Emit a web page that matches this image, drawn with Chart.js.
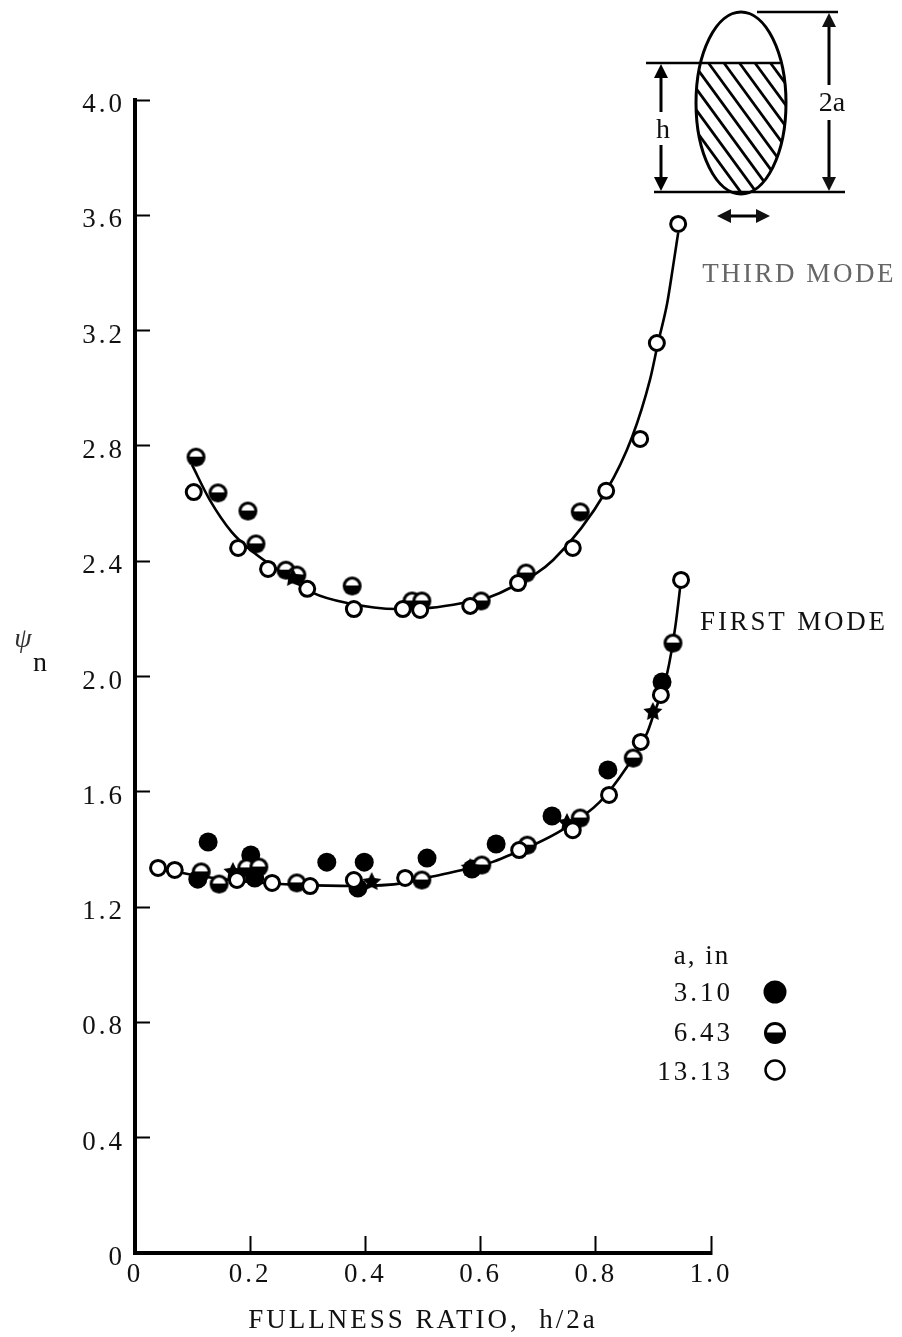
<!DOCTYPE html>
<html>
<head>
<meta charset="utf-8">
<title>Fullness ratio</title>
<script src="https://cdn.jsdelivr.net/npm/chart.js@4"></script>
<style>
  html, body { margin: 0; background: #fff; }
  canvas { display: block; }
</style>
</head>
<body>
<canvas id="chart" width="902" height="1337"></canvas>
<script>
// Tick labels
const xTickLabels = ['0', '0.2', '0.4', '0.6', '0.8', '1.0'];
const yTickLabels = ['0', '0.4', '0.8', '1.2', '1.6', '2.0', '2.4', '2.8', '3.2', '3.6', '4.0'];

// Legend rows
const legendTitle = 'a, in';
const legendLabels = ['3.10', '6.43', '13.13'];

// First mode, values
const firstCurveX = [.052, .113, .200, .286, .380, .469, .512, .568, .620, .651, .691, .741, .807, .854, .889, .899, .924, .938, .948];
const firstCurveY = [1.329, 1.308, 1.287, 1.277, 1.273, 1.284, 1.304, 1.329, 1.356, 1.381, 1.415, 1.467, 1.565, 1.686, 1.804, 1.860, 2.012, 2.172, 2.335];
const firstFilledX = [.127, .109, .201, .333, .398, .387, .507, .627, .724, .821, .915, .585, .208];
const firstFilledY = [1.426, 1.297, 1.381, 1.356, 1.356, 1.266, 1.370, 1.419, 1.516, 1.676, 1.981, 1.332, 1.301];
const firstHalfX = [.115, .146, .194, .215, .281, .498, .602, .681, .773, .865, .934];
const firstHalfY = [1.322, 1.280, 1.336, 1.339, 1.284, 1.294, 1.346, 1.415, 1.509, 1.717, 2.116];
const firstOpenX = [.040, .069, .177, .238, .304, .380, .469, .667, .760, .823, .878, .913, .948];
const firstOpenY = [1.336, 1.329, 1.294, 1.284, 1.273, 1.294, 1.301, 1.398, 1.467, 1.589, 1.773, 1.936, 2.335];
const firstStarX = [.170, .411, .582, .750, .899];
const firstStarY = [1.322, 1.287, 1.336, 1.492, 1.877];

// Third mode
const thirdCurveX = [.099, .130, .168, .205, .257, .309, .368, .455, .512, .569, .616, .651, .726, .819, .863, .894, .908, .924, .934, .943];
const thirdCurveY = [2.734, 2.612, 2.501, 2.432, 2.359, 2.290, 2.255, 2.234, 2.238, 2.255, 2.276, 2.307, 2.404, 2.647, 2.831, 3.029, 3.157, 3.296, 3.421, 3.539];
const thirdHalfX = [.106, .144, .196, .210, .262, .281, .377, .481, .498, .601, .679, .773];
const thirdHalfY = [2.761, 2.637, 2.574, 2.460, 2.369, 2.352, 2.314, 2.262, 2.262, 2.262, 2.359, 2.571];
const thirdOpenX = [.102, .179, .231, .299, .380, .465, .495, .582, .665, .760, .818, .877, .906, .943];
const thirdOpenY = [2.640, 2.446, 2.373, 2.304, 2.234, 2.234, 2.231, 2.245, 2.324, 2.446, 2.644, 2.824, 3.157, 3.570];
const thirdStarX = [.274];
const thirdStarY = [2.342];

const SERIF = '"Liberation Serif", serif';
const toPoints = (xs, ys) => xs.map((x, i) => ({ x, y: ys[i] }));

// Half filled circle, white cap on top
function halfMarker(r) {
  const c = document.createElement('canvas');
  c.width = c.height = Math.ceil(r * 2 + 2);
  const g = c.getContext('2d');
  const m = c.width / 2;
  g.beginPath();
  g.arc(m, m, r, 0, Math.PI * 2);
  g.fillStyle = '#000';
  g.fill();
  g.save();
  g.beginPath();
  g.arc(m, m, r - 3, 0, Math.PI * 2);
  g.clip();
  g.fillStyle = '#fff';
  g.fillRect(0, 0, c.width, m - 0.5);
  g.restore();
  return c;
}

function starMarker(r) {
  const c = document.createElement('canvas');
  c.width = c.height = Math.ceil(r * 2 + 2);
  const g = c.getContext('2d');
  const m = c.width / 2;
  g.beginPath();
  for (let i = 0; i < 10; i++) {
    const rad = i % 2 ? r * 0.5 : r;
    const a = -Math.PI / 2 + i * Math.PI / 5;
    g.lineTo(m + rad * Math.cos(a), m + rad * Math.sin(a));
  }
  g.closePath();
  g.fillStyle = '#000';
  g.fill();
  return c;
}

const half = halfMarker(9.5);
const star = starMarker(10);
const legendHalf = halfMarker(11);

const curve = (data) => ({
  data, showLine: true, pointRadius: 0, borderColor: '#000', borderWidth: 2.6,
  cubicInterpolationMode: 'monotone', fill: false,
});
const open = (data) => ({
  data, showLine: false, pointStyle: 'circle', pointRadius: 7.5,
  pointBackgroundColor: '#fff', pointBorderColor: '#000', pointBorderWidth: 3,
});
const filled = (data) => ({
  data, showLine: false, pointStyle: 'circle', pointRadius: 9.5,
  pointBackgroundColor: '#000', pointBorderColor: '#000', pointBorderWidth: 0,
});
const marked = (data, style) => ({ data, showLine: false, pointStyle: style, pointRadius: 9 });

function text(ctx, s, x, y, font, align = 'center', color = '#111', spacing = '0px') {
  ctx.font = font;
  ctx.textAlign = align;
  ctx.textBaseline = 'middle';
  ctx.fillStyle = color;
  ctx.letterSpacing = spacing;
  ctx.fillText(s, x, y);
  ctx.letterSpacing = '0px';
}

function arrowHead(ctx, x, y, dx, dy) {
  // punta hacia (dx, dy)
  ctx.beginPath();
  ctx.moveTo(x, y);
  ctx.lineTo(x - dx * 14 - dy * 7, y - dy * 14 - dx * 7);
  ctx.lineTo(x - dx * 14 + dy * 7, y - dy * 14 + dx * 7);
  ctx.closePath();
  ctx.fill();
}

function line(ctx, x1, y1, x2, y2, w) {
  ctx.lineWidth = w;
  ctx.beginPath();
  ctx.moveTo(x1, y1);
  ctx.lineTo(x2, y2);
  ctx.stroke();
}

// Ellipse sketch at the top right
function drawSketch(ctx) {
  ctx.save();
  ctx.strokeStyle = '#000';
  ctx.fillStyle = '#000';
  ctx.save();
  ctx.beginPath();
  ctx.ellipse(741, 103, 45, 91, 0, 0, Math.PI * 2);
  ctx.clip();
  for (let x = 600; x < 800; x += 15.5) {
    line(ctx, x, 63, x + 146, 63 + 200, 2.8);
  }
  ctx.fillStyle = '#fff';
  ctx.fillRect(680, 0, 120, 63);
  ctx.restore();
  ctx.lineWidth = 3;
  ctx.beginPath();
  ctx.ellipse(741, 103, 45, 91, 0, 0, Math.PI * 2);
  ctx.stroke();
  line(ctx, 646, 63, 780, 63, 2.5);
  line(ctx, 757, 12, 838, 12, 2.5);
  line(ctx, 654, 192, 845, 192, 2.5);
  // h
  line(ctx, 661, 70, 661, 112, 3);
  line(ctx, 661, 145, 661, 185, 3);
  arrowHead(ctx, 661, 64, 0, -1);
  arrowHead(ctx, 661, 191, 0, 1);
  text(ctx, 'h', 663, 131, '28px ' + SERIF);
  // 2a
  line(ctx, 829, 20, 829, 85, 3);
  line(ctx, 829, 120, 829, 185, 3);
  arrowHead(ctx, 829, 13, 0, -1);
  arrowHead(ctx, 829, 191, 0, 1);
  text(ctx, '2a', 832, 104, '28px ' + SERIF);
  // double arrow
  line(ctx, 725, 216, 762, 216, 3);
  arrowHead(ctx, 717, 216, -1, 0);
  arrowHead(ctx, 770, 216, 1, 0);
  ctx.restore();
}

function drawLegend(ctx) {
  text(ctx, legendTitle, 702, 957, '27px ' + SERIF, 'center', '#111', '2px');
  const ys = [992, 1032, 1071];
  legendLabels.forEach((s, i) => text(ctx, s, 733, ys[i] + 2, '27px ' + SERIF, 'right', '#111', '3px'));
  ctx.save();
  ctx.beginPath();
  ctx.arc(775, ys[0], 11.5, 0, Math.PI * 2);
  ctx.fillStyle = '#000';
  ctx.fill();
  ctx.drawImage(legendHalf, 775 - legendHalf.width / 2, ys[1] + 1 - legendHalf.height / 2);
  ctx.beginPath();
  ctx.arc(775, ys[2] - 1, 9.5, 0, Math.PI * 2);
  ctx.lineWidth = 2.5;
  ctx.strokeStyle = '#000';
  ctx.stroke();
  ctx.restore();
}

const extrasPlugin = {
  id: 'extras',
  beforeDraw(chart) {
    chart.ctx.letterSpacing = '3px';
  },
  afterDraw(chart) {
    const ctx = chart.ctx;
    ctx.letterSpacing = '0px';
    drawSketch(ctx);
    drawLegend(ctx);
    text(ctx, 'THIRD MODE', 799, 275, '27px ' + SERIF, 'center', '#666', '2.5px');
    text(ctx, 'FIRST MODE', 794, 623, '27px ' + SERIF, 'center', '#111', '2.8px');
    text(ctx, 'ψ', 23, 640, 'italic 28px ' + SERIF, 'center', '#333');
    text(ctx, 'n', 40, 664, '28px ' + SERIF);
  },
};

new Chart(document.getElementById('chart'), {
  type: 'scatter',
  plugins: [extrasPlugin],
  data: {
    datasets: [
      open(toPoints(firstOpenX, firstOpenY)),
      open(toPoints(thirdOpenX, thirdOpenY)),
      marked(toPoints(firstStarX, firstStarY), star),
      marked(toPoints(thirdStarX, thirdStarY), star),
      marked(toPoints(firstHalfX, firstHalfY), half),
      marked(toPoints(thirdHalfX, thirdHalfY), half),
      filled(toPoints(firstFilledX, firstFilledY)),
      curve(toPoints(firstCurveX, firstCurveY)),
      curve(toPoints(thirdCurveX, thirdCurveY)),
    ],
  },
  options: {
    responsive: false,
    animation: false,
    events: [],
    clip: false,
    layout: { padding: { left: 0, right: 191, top: 100, bottom: 0 } },
    plugins: { legend: { display: false }, tooltip: { enabled: false } },
    scales: {
      x: {
        type: 'linear', min: 0, max: 1,
        afterFit(s) { s.height = 84; s.paddingLeft = 0; s.paddingRight = 0; },
        border: { color: '#000', width: 4 },
        grid: { drawOnChartArea: false, color: '#000', tickWidth: 2, tickLength: -17 },
        ticks: {
          stepSize: 0.2, maxRotation: 0, autoSkip: false, padding: 23, color: '#111',
          font: { family: SERIF, size: 27 },
          callback: (v, i) => xTickLabels[i],
        },
        title: {
          display: true, text: 'FULLNESS RATIO,  h/2a', color: '#111',
          font: { family: SERIF, size: 27 }, padding: { top: 0, bottom: 0 },
        },
      },
      y: {
        type: 'linear', min: 0, max: 4,
        afterFit(s) { s.width = 135; s.paddingTop = 0; s.paddingBottom = 0; },
        border: { color: '#000', width: 4 },
        grid: { drawOnChartArea: false, color: '#000', tickWidth: 2, tickLength: -15 },
        ticks: {
          stepSize: 0.4, autoSkip: false, padding: 25, color: '#111',
          // empty first line nudges the label a little below its tick
          font: { family: SERIF, size: 27, lineHeight: '10px' },
          callback: (v, i) => ['', yTickLabels[i]],
        },
      },
    },
  },
});
</script>
</body>
</html>
